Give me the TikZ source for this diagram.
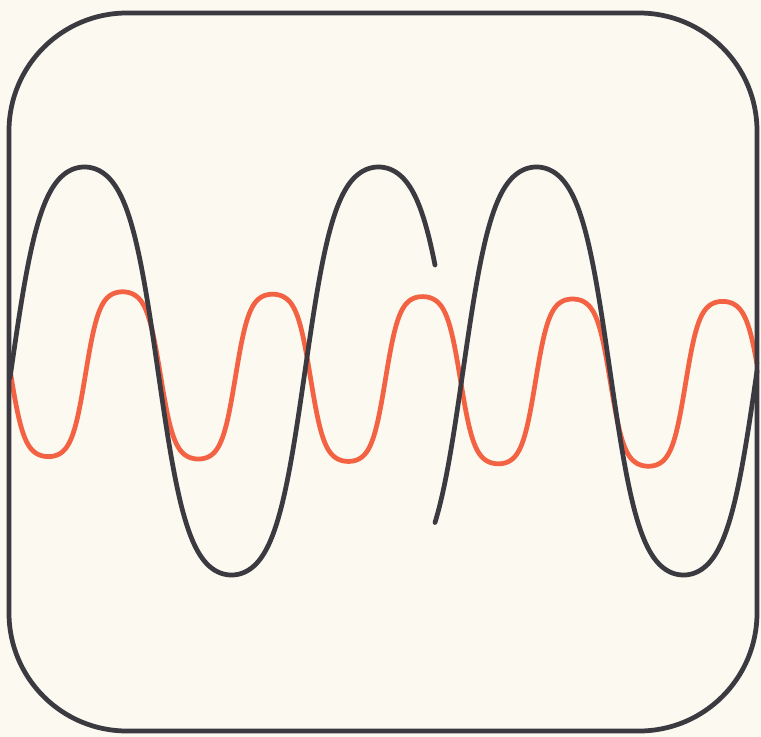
\documentclass[tikz,border=0pt]{standalone}
\usepackage{xcolor}
\usepackage{tikz}
\definecolor{ScopeInk}{RGB}{58,58,64}
\definecolor{ScopeRed}{RGB}{243,98,66}
\definecolor{ScopePaper}{RGB}{251,249,240}

\begin{document}
\begin{tikzpicture}[x=0.02cm, y=-0.02cm,
    screen/.style={draw=ScopeInk, line width=2.7pt, rounded corners=2.36cm},
    trace/.style={ScopeInk, line width=2.7pt, line cap=round, line join=round},
    carrier/.style={ScopeRed, line width=2.7pt, line join=round}
  ]
  % Paper
  \fill[ScopePaper] (0,0) rectangle (761,737);
  \useasboundingbox (0,0) rectangle (761,737);

  % Red trace
  \draw[carrier, samples=500, domain=10:757, variable=\t]
    plot ({\t}, {373 + 0.016*(\t-10) - 83*tanh(1.6*sin(2.4*(\t-85.5)))/tanh(1.6)});

  % Dark trace, before the jump
  \draw[trace, samples=300, domain=10:435, variable=\t]
    plot ({\t}, {371 - 204*tanh(1.4*sin(1.22449*(\t-11)))/tanh(1.4)});

  % Dark trace, after the jump
  \draw[trace, samples=250, domain=435:757, variable=\t]
    plot ({\t}, {371 - 204*tanh(1.4*sin(1.22449*(\t-463)))/tanh(1.4)});

  % Screen frame
  \draw[screen] (9,13) rectangle (757,731);
\end{tikzpicture}
\end{document}
